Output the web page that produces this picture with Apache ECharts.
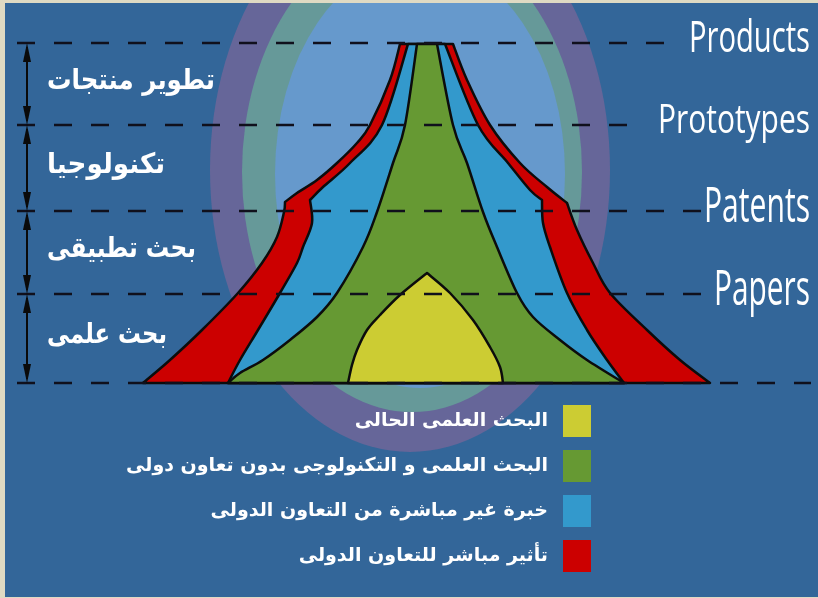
<!DOCTYPE html>
<html><head><meta charset="utf-8">
<script src="https://cdn.jsdelivr.net/npm/echarts@6/dist/echarts.min.js"></script>
<style>html,body{margin:0;padding:0;background:#dfdac3}#c{width:818px;height:598px}</style>
</head><body><div id="c"></div>
<script>
// ---- levels (height above the base line) ----
const levelNames   = ['', 'Papers', 'Patents', 'Prototypes', 'Products'];
const levelHeights = [0, 89, 172, 258, 340];
const lineEnds     = [385, 288, 279, 217, 249];
const stageNames   = ['بحث علمى', 'بحث تطبيقى', 'تكنولوجيا', 'تطوير منتجات'];

// ---- series names ----
const nameYellow = 'البحث العلمى الحالى';
const nameGreen  = 'البحث العلمى و التكنولوجى بدون تعاون دولى';
const nameBlue   = 'خبرة غير مباشرة من التعاون الدولى';
const nameRed    = 'تأثير مباشر للتعاون الدولى';

// ---- outlines [x, height] ----
const redLeftTop     = [[-26,339],[-36,303],[-56,258],[-69,240],[-89,220],[-109,203],[-129,190],[-141,181]];
const redLeftBottom  = [[-141,181],[-142,171],[-149,146],[-164,120],[-188,90],[-224,53],[-256,23],[-283,0]];
const redRightTop    = [[27,339],[41,303],[64,258],[94,220],[121,196],[141,180]];
const redRightBottom = [[141,180],[151,153],[167,120],[184,90],[221,53],[254,23],[284,0]];

const blueLeftTop     = [[-18,339],[-44,258],[-76,220],[-103,196],[-116,183]];
const blueLeftBottom  = [[-116,183],[-114,160],[-123,136],[-129,120],[-146,90],[-168,53],[-186,23],[-198,0]];
const blueRightTop    = [[19,339],[52,258],[82,220],[104,193],[116,183]];
const blueRightBottom = [[116,183],[117,160],[124,136],[141,90],[161,53],[181,23],[198,0]];

const greenLeft  = [[-9,339],[-21,258],[-33,220],[-49,171],[-63,136],[-89,90],[-109,66],[-136,43],[-163,23],[-186,10],[-198,0]];
const greenRight = [[11,339],[27,258],[41,220],[57,171],[71,136],[91,90],[107,66],[134,43],[161,23],[198,0]];

const yellowLeft  = [[-78,0],[-74,18],[-69,33],[-59,53],[-46,68],[-26,88],[1,110]];
const yellowRight = [[1,110],[24,90],[47,63],[64,36],[74,16],[77,0]];

// ---- styling constants ----
const lineStartX = -409, labelRightX = 384, arrowX = -399, stageLeftX = -379;
const labelFontSizes = [0, 49, 49, 40, 43];
const labelWidths    = [0, 96, 106, 152, 121];
const stageWidths    = [120, 149, 118, 168];

const mctx = document.createElement('canvas').getContext('2d');
function textW(t, font){ mctx.font = font; return mctx.measureText(t).width || 1; }

function rev(a){ return a.slice().reverse(); }
function segPath(pts){
  const n = pts.length; let d = '';
  if (n === 2) return ' L' + pts[1][0] + ' ' + pts[1][1];
  for (let i = 0; i < n - 1; i++) {
    const p0 = pts[Math.max(i-1,0)], p1 = pts[i], p2 = pts[i+1], p3 = pts[Math.min(i+2,n-1)];
    const c1 = [p1[0] + (p2[0]-p0[0])/6, p1[1] + (p2[1]-p0[1])/6];
    const c2 = [p2[0] - (p3[0]-p1[0])/6, p2[1] - (p3[1]-p1[1])/6];
    d += ' C' + c1[0] + ' ' + c1[1] + ' ' + c2[0] + ' ' + c2[1] + ' ' + p2[0] + ' ' + p2[1];
  }
  return d;
}
function shapePath(api, segs){
  const pix = segs.map(s => s.map(p => api.coord(p)));
  let d = 'M' + pix[0][0][0] + ' ' + pix[0][0][1];
  pix.forEach(s => { d += segPath(s); });
  return d + ' Z';
}
function layer(name, color, segs){
  return {
    name: name, type: 'custom', coordinateSystem: 'cartesian2d', z: 2,
    itemStyle: { color: color },
    data: [[0, 0]],
    renderItem: function(params, api){
      return { type: 'path', shape: { pathData: shapePath(api, segs) },
        style: { fill: color, stroke: '#0c0c0c', lineWidth: 2.5, lineJoin: 'round' } };
    }
  };
}

const redSegs = [[redLeftTop[0], redRightTop[0]], redRightTop, redRightBottom,
  [redRightBottom[redRightBottom.length-1], redLeftBottom[redLeftBottom.length-1]], rev(redLeftBottom), rev(redLeftTop)];
const blueSegs = [[blueLeftTop[0], blueRightTop[0]], blueRightTop, blueRightBottom,
  [blueRightBottom[blueRightBottom.length-1], blueLeftBottom[blueLeftBottom.length-1]], rev(blueLeftBottom), rev(blueLeftTop)];
const greenSegs = [[greenLeft[0], greenRight[0]], greenRight,
  [greenRight[greenRight.length-1], greenLeft[greenLeft.length-1]], rev(greenLeft)];
const yellowSegs = [yellowLeft, yellowRight, [yellowRight[yellowRight.length-1], yellowLeft[0]]];

const chart = echarts.init(document.getElementById('c'));
chart.setOption({
  backgroundColor: '#336699',
  animation: false,
  grid: { left: 16, right: 2, top: 33, bottom: 205 },
  xAxis: { type: 'value', min: -410, max: 390, show: false },
  yAxis: { type: 'value', min: -10, max: 350, show: false },
  legend: {
    data: [nameYellow, nameGreen, nameBlue, nameRed],
    orient: 'vertical', right: 227, top: 405, padding: 0, align: 'right',
    itemWidth: 28, itemHeight: 32, itemGap: 13, icon: 'rect', selectedMode: false,
    textStyle: { color: '#ffffff', fontSize: 19, fontWeight: 'bold', fontFamily: 'DejaVu Sans', padding: [0, 10, 0, 0] }
  },
  graphic: { elements: [
    { type: 'circle', x: 410, y: 170, scaleY: 282/200, shape: { cx: 0, cy: 0, r: 200 }, style: { fill: '#666699' }, z: 0, silent: true },
    { type: 'circle', x: 412, y: 172, scaleY: 240/170, shape: { cx: 0, cy: 0, r: 170 }, style: { fill: '#669999' }, z: 0, silent: true },
    { type: 'circle', x: 420, y: 174, scaleY: 214/145, shape: { cx: 0, cy: 0, r: 145 }, style: { fill: '#6699cc' }, z: 0, silent: true },
    { type: 'rect', shape: { x: 0, y: 0, width: 5, height: 598 }, style: { fill: '#dfdac3' }, z: 100, silent: true },
    { type: 'rect', shape: { x: 0, y: 0, width: 818, height: 3 }, style: { fill: '#dfdac3' }, z: 100, silent: true },
    { type: 'rect', shape: { x: 0, y: 597, width: 818, height: 1 }, style: { fill: '#dfdac3' }, z: 100, silent: true }
  ]},
  series: [
    layer(nameRed, '#cc0000', redSegs),
    layer(nameBlue, '#3399cc', blueSegs),
    layer(nameGreen, '#669933', greenSegs),
    layer(nameYellow, '#cccc33', yellowSegs),
    {
      type: 'custom', coordinateSystem: 'cartesian2d', z: 4, silent: true,
      data: levelHeights.map((h, i) => [lineEnds[i], h]),
      renderItem: function(params, api){
        const i = params.dataIndex, h = api.value(1);
        const a = api.coord([lineStartX, h]), b = api.coord([api.value(0), h]);
        const ch = [{ type: 'line', shape: { x1: a[0], y1: a[1], x2: b[0], y2: b[1] },
          style: { stroke: '#10101c', lineWidth: 2.5, lineDash: [18, 19] } }];
        if (levelNames[i]) {
          const p = api.coord([labelRightX, h + 3]);
          const fs = labelFontSizes[i];
          const sx = labelWidths[i] / textW(levelNames[i], fs + 'px "Open Sans"');
          ch.push({ type: 'text', x: p[0], y: p[1], scaleX: sx,
            style: { text: levelNames[i], fill: '#ffffff', fontSize: fs, fontFamily: 'Open Sans', align: 'right', verticalAlign: 'middle' } });
        }
        return { type: 'group', children: ch };
      }
    },
    {
      type: 'custom', coordinateSystem: 'cartesian2d', z: 4, silent: true,
      data: levelHeights.slice(0, 4).map((h, i) => [h, levelHeights[i+1]]),
      renderItem: function(params, api){
        const i = params.dataIndex;
        const a = api.coord([arrowX, api.value(0)]), b = api.coord([arrowX, api.value(1)]);
        const L = 19, W = 4;
        const mid = api.coord([stageLeftX, (api.value(0) + api.value(1)) / 2 + 2.5]);
        const font = 'bold 28px "DejaVu Sans"';
        const sx = stageWidths[i] / textW(stageNames[i], font);
        return { type: 'group', children: [
          { type: 'line', shape: { x1: a[0], y1: a[1] - 4, x2: b[0], y2: b[1] + 4 }, style: { stroke: '#0a0a0a', lineWidth: 2 } },
          { type: 'polygon', shape: { points: [[a[0], a[1]], [a[0]-W, a[1]-L], [a[0]+W, a[1]-L]] }, style: { fill: '#0a0a0a' } },
          { type: 'polygon', shape: { points: [[b[0], b[1]], [b[0]-W, b[1]+L], [b[0]+W, b[1]+L]] }, style: { fill: '#0a0a0a' } },
          { type: 'text', x: mid[0], y: mid[1], scaleX: sx,
            style: { text: stageNames[i], fill: '#ffffff', fontSize: 28, fontWeight: 'bold', fontFamily: 'DejaVu Sans', align: 'left', verticalAlign: 'middle' } }
        ]};
      }
    }
  ]
});
</script></body></html>
